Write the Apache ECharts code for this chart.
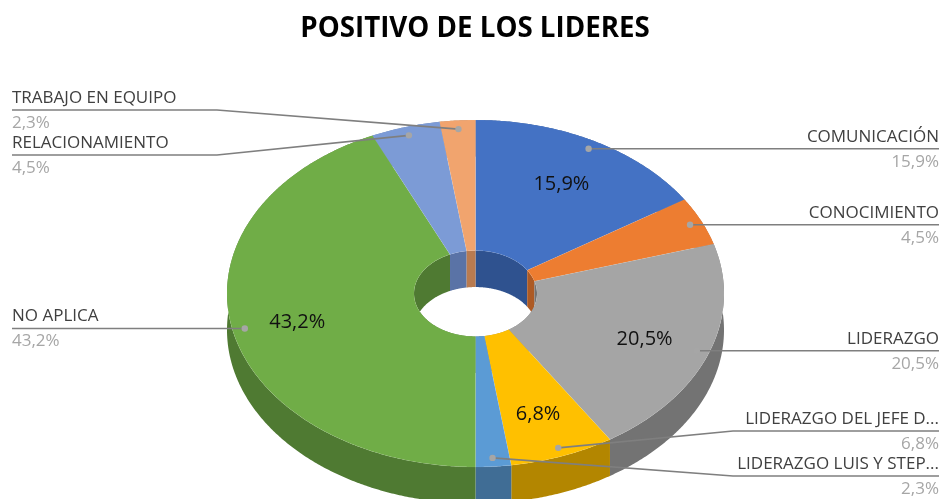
<!DOCTYPE html>
<html>
<head>
<meta charset="utf-8">
<title>POSITIVO DE LOS LIDERES</title>
<script src="https://cdn.jsdelivr.net/npm/echarts@6/dist/echarts.min.js"></script>
<style>
  html, body { margin: 0; padding: 0; background: #fff; }
  #chart { width: 941px; height: 499px; }
</style>
</head>
<body>
<div id="chart"></div>
<script>
const categories = [
  "COMUNICACIÓN",
  "CONOCIMIENTO",
  "LIDERAZGO",
  "LIDERAZGO DEL JEFE D...",
  "LIDERAZGO LUIS Y STEP...",
  "NO APLICA",
  "RELACIONAMIENTO",
  "TRABAJO EN EQUIPO",
];
const values = [15.9, 4.5, 20.5, 6.8, 2.3, 43.2, 4.5, 2.3];

const topColors = ["#4472C4", "#ED7D31", "#A5A5A5", "#FFC000", "#5B9BD5", "#70AD47", "#7C9BD6", "#F1A46E"];
const sideColors = ["#2F528F", "#AD5A24", "#737373", "#B38600", "#406D95", "#4F7A32", "#5A73A6", "#B97B50"];

// label placement, same order as categories
const labelSide = ["right", "right", "right", "right", "right", "left", "left", "left"];
const labelLineY = [149, 225, 351, 431, 476, 328, 155, 110];
const inSliceLabel = [true, false, true, true, false, true, false, false];

const font = '"Open Sans", sans-serif';

// flattened doughnut
const cx = 475.5, cy = 293.5, rx = 248.5, ry = 173.5;
const holeRatio = 0.2475, depth = 36.5;
const elbowLeft = 217, elbowRight = 733, edgeLeft = 12, edgeRight = 939;

const total = values.reduce((a, b) => a + b, 0);

function angleAt(i) {
  let sum = 0;
  for (let k = 0; k < i; k++) sum += values[k];
  return (sum / total) * Math.PI * 2;
}
function pointAt(t, ratio, dy) {
  return [cx + rx * ratio * Math.sin(t), cy - ry * ratio * Math.cos(t) + (dy || 0)];
}
function arc(t0, t1, ratio, dy) {
  const pts = [];
  const steps = Math.max(2, Math.ceil(Math.abs(t1 - t0) / 0.008));
  for (let s = 0; s <= steps; s++) {
    pts.push(pointAt(t0 + ((t1 - t0) * s) / steps, ratio, dy));
  }
  return pts;
}

function renderWalls(params, api) {
  const i = api.value(0);
  const t0 = angleAt(i), t1 = angleAt(i + 1);
  const wall = (ratio) => ({
    type: "polygon",
    shape: { points: arc(t0, t1, ratio, 0).concat(arc(t1, t0, ratio, depth)) },
    style: { fill: sideColors[i] },
  });
  return { type: "group", children: [wall(1), wall(holeRatio)] };
}

function renderTop(params, api) {
  const i = api.value(0);
  const t0 = angleAt(i), t1 = angleAt(i + 1);
  return {
    type: "polygon",
    shape: { points: arc(t0, t1, 1, 0).concat(arc(t1, t0, holeRatio, 0)) },
    style: { fill: topColors[i], stroke: "rgba(255,255,255,0.12)", lineWidth: 0.5 },
  };
}

function renderLabels(params, api) {
  const i = api.value(0);
  const mid = (angleAt(i) + angleAt(i + 1)) / 2;
  const dot = pointAt(mid, 0.95);
  const right = labelSide[i] === "right";
  const elbow = right ? elbowRight : elbowLeft;
  const edge = right ? edgeRight : edgeLeft;
  const pct = values[i].toFixed(1).replace(".", ",") + "%";
  const straight = Math.abs(dot[1] - labelLineY[i]) < 2;
  const y = straight ? dot[1] : labelLineY[i];
  const pts = straight ? [dot, [edge, y]] : [dot, [elbow, y], [edge, y]];
  const children = [
    { type: "polyline", shape: { points: pts }, style: { stroke: "#7F7F7F", lineWidth: 1.6, fill: null } },
    { type: "circle", shape: { cx: dot[0], cy: dot[1], r: 3.2 }, style: { fill: "#A6A6A6" } },
    {
      type: "text",
      style: { x: edge, y: y - 12, text: categories[i], fill: "#404040", font: "17px " + font, align: right ? "right" : "left", verticalAlign: "middle" },
    },
    {
      type: "text",
      style: { x: edge, y: y + 13, text: pct, fill: "#A6A6A6", font: "17px " + font, align: right ? "right" : "left", verticalAlign: "middle" },
    },
  ];
  if (inSliceLabel[i]) {
    const c = pointAt(mid, 0.73, 2);
    children.push({
      type: "text",
      style: { x: c[0] - 1, y: c[1], text: pct, fill: "#111", font: "20px " + font, align: "center", verticalAlign: "middle" },
    });
  }
  return { type: "group", children: children };
}

const rows = values.map((v, i) => [i, v]);

const chart = echarts.init(document.getElementById("chart"));
chart.setOption({
  animation: false,
  backgroundColor: "#fff",
  title: {
    text: "POSITIVO DE LOS LIDERES",
    left: 470,
    top: 10,
    textAlign: "center",
    textStyle: { fontFamily: font, fontSize: 27.7, fontWeight: "bold", color: "#000" },
  },
  series: [
    { type: "custom", coordinateSystem: "none", z: 1, silent: true, data: rows, renderItem: renderWalls },
    { type: "custom", coordinateSystem: "none", z: 2, silent: true, data: rows, renderItem: renderTop },
    { type: "custom", coordinateSystem: "none", z: 3, silent: true, data: rows, renderItem: renderLabels },
  ],
});
</script>
</body>
</html>
